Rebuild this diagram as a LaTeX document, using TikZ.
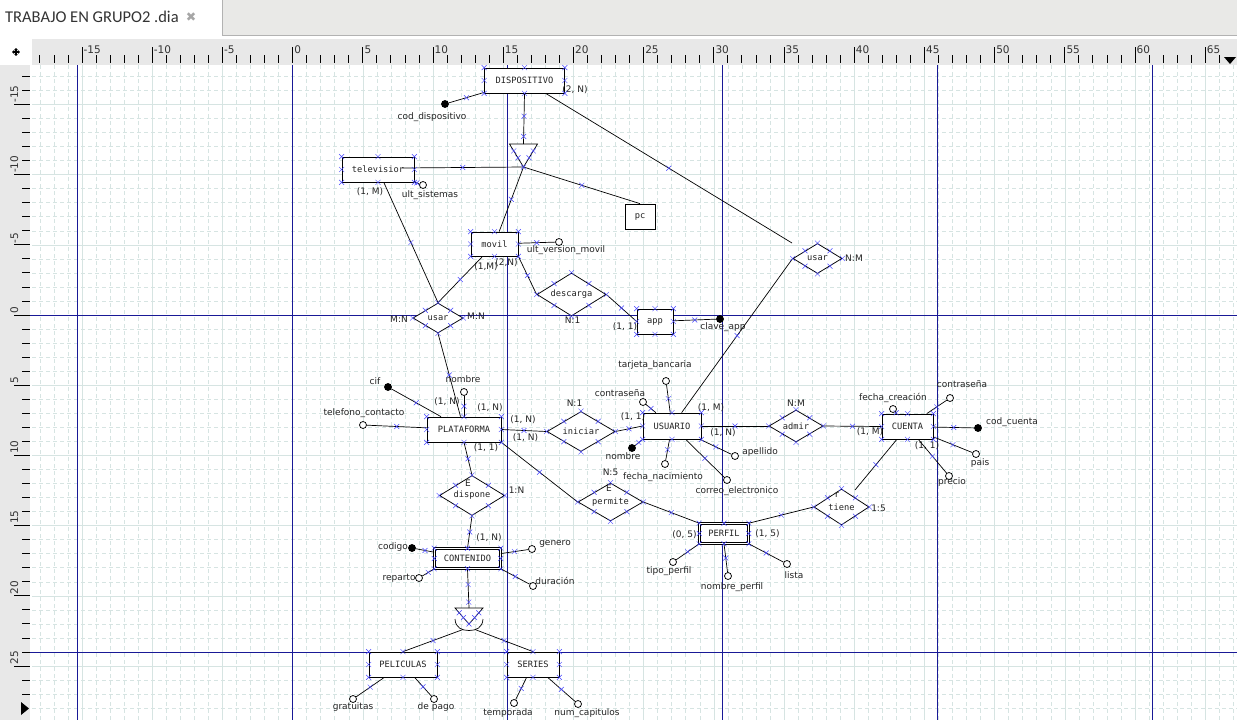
\documentclass[tikz,border=0pt]{standalone}
\usepackage{fontspec}
\setmainfont{DejaVu Sans}
\newfontfamily\monof{DejaVu Sans Mono}
\newfontfamily\tabf{Carlito}
\usetikzlibrary{shapes.geometric, shapes.misc, calc, arrows.meta}

\definecolor{guide}{RGB}{25,25,150}
\definecolor{gridc}{RGB}{214,228,226}
\definecolor{rulerbg}{RGB}{232,232,232}
\definecolor{tabbg}{RGB}{233,233,231}
\definecolor{cxblue}{RGB}{70,70,255}
\definecolor{txt}{RGB}{35,35,35}

\newcommand\boxpts[1]{\foreach \a in {north west,north,north east,east,south east,south,south west,west}{\node[cx] at (#1.\a) {};}}
\newcommand\diapts[1]{%
  \foreach \a in {north,east,south,west}{\node[cx] at (#1.\a) {};}%
  \foreach \p/\q in {north/east,east/south,south/west,west/north}{\node[cx] at ($(#1.\p)!.5!(#1.\q)$) {};}}

\begin{document}
\begin{tikzpicture}[x=1pt,y=-1pt,
  ln/.style={line width=.7pt},
  cx/.style={cross out,draw=cxblue,line width=.45pt,minimum size=4.5pt,inner sep=0pt},
  ent/.style={rectangle,draw,fill=white,line width=.75pt,text=txt,inner sep=0pt,minimum height=25pt,font=\monof\fontsize{8.7}{10}\selectfont},
  weak/.style={ent,double,double distance=1.8pt,line width=.6pt,minimum height=20pt},
  rel/.style={diamond,draw,fill=white,line width=.75pt,text=txt,inner sep=0pt,aspect=1.6,font=\monof\fontsize{8.7}{10}\selectfont},
  att/.style={circle,draw,fill=white,line width=.75pt,inner sep=0pt,minimum size=7pt},
  key/.style={att,fill=black},
  lbl/.style={text=txt,inner sep=0pt,font=\fontsize{9}{10}\selectfont},
  rul/.style={text=black!80,inner sep=0pt,font=\fontsize{10.5}{12}\selectfont},
  gridmin/.style={gridc,line width=.5pt,dash pattern=on 4pt off 3pt},
  gridmaj/.style={gridc,line width=.5pt},
  gd/.style={guide,line width=.8pt},
  tip/.style={line width=1.1pt,{Triangle[length=2pt,width=3.5pt]}-{Triangle[length=2pt,width=3.5pt]}}]

\useasboundingbox (0,0) rectangle (1237,720);
\fill[white] (0,0) rectangle (1237,720);

% tab bar
\fill[tabbg] (222,0) rectangle (1237,35);
\draw[black!30] (222.5,0) -- (222.5,35.5) -- (1237,35.5);
\node[anchor=base west,inner sep=0pt,text=black!80,font=\tabf\fontsize{16.5}{18}\selectfont] (tab) at (5,22) {TRABAJO EN GRUPO2 .dia};
\node[inner sep=0pt,text=black!35,font=\fontsize{12.5}{14}\selectfont] (close) at (191,17.5) {✖};

% rulers
\fill[rulerbg] (32,39) rectangle (1237,65);
\fill[rulerbg] (0,65) rectangle (30,720);
\draw[tip] (12,52) -- (20,52);
\draw[tip] (16,48) -- (16,56);
\fill (1224,57) -- (1236,57) -- (1230,64) -- cycle;
\fill (21,702) -- (21,715) -- (29,708.5) -- cycle;

\foreach \u in {-18,...,66}{
  \pgfmathsetmacro\gx{292.6+14.04*\u}
  \pgfmathtruncatemacro\m{mod(\u+100,5)}
  \pgfmathtruncatemacro\i{\u+20}
  \ifnum\m=0
    \draw[gridmaj] (\gx,65) -- (\gx,720);
    \draw[line width=.8pt] (\gx,47) -- (\gx,63);
    \node[rul,anchor=base west] (rx\i) at (\gx+1.5,53) {\u};
  \else
    \draw[gridmin] (\gx,65) -- (\gx,720);
    \draw[line width=.8pt] (\gx,55) -- (\gx,63);
  \fi
}
\draw[gridmin] (1233.3,65) -- (1233.3,720);
\foreach \v in {-17,...,28}{
  \pgfmathsetmacro\gy{315+14.04*\v}
  \pgfmathtruncatemacro\m{mod(\v+100,5)}
  \pgfmathtruncatemacro\i{\v+20}
  \ifnum\m=0
    \draw[gridmaj] (32,\gy) -- (1237,\gy);
    \ifnum\v<28 \draw[line width=.8pt] (14,\gy) -- (30,\gy);
    \node[rul,anchor=base west,rotate=90] (ry\i) at (18,\gy-1.5) {\v};\fi
  \else
    \draw[gridmin] (32,\gy) -- (1237,\gy);
    \ifnum\v<28 \draw[line width=.8pt] (22,\gy) -- (30,\gy);\fi
  \fi
}

% guides
\foreach \gx in {77,292,507,722,937,1152}{\draw[gd] (\gx,65) -- (\gx,720);}
\foreach \gy in {315,652}{\draw[gd] (30,\gy) -- (1237,\gy);}

% entities
\node[ent,minimum width=80pt] (dispo) at (524.5,80.5) {DISPOSITIVO};
\node[ent,minimum width=72pt] (tele) at (378,169.5) {televisior};
\node[ent,minimum width=30pt] (pc) at (640,216.5) {pc};
\node[ent,minimum width=47pt,minimum height=24pt] (movil) at (494.5,244) {movil};
\node[ent,minimum width=36pt] (app) at (655,321.5) {app};
\node[ent,minimum width=74pt] (plat) at (464,429.5) {PLATAFORMA};
\node[ent,minimum width=58pt,minimum height=26pt] (usu) at (672,426) {USUARIO};
\node[ent,minimum width=51pt] (cuenta) at (907.5,426.5) {CUENTA};
\node[weak,minimum width=66pt] (cont) at (467.5,558.5) {CONTENIDO};
\node[weak,minimum width=49pt] (perfil) at (724,533.5) {PERFIL};
\node[ent,minimum width=68pt] (peli) at (403,664.5) {PELICULAS};
\node[ent,minimum width=52pt] (series) at (533,664.5) {SERIES};

% relationships
\node[rel,minimum width=50pt,minimum height=30pt] (usarA) at (438,318) {usar};
\node[rel,minimum width=69pt,minimum height=43pt] (descarga) at (571.5,294.5) {descarga};
\node[rel,minimum width=49pt,minimum height=30pt] (usarB) at (817.5,258.5) {usar};
\node[rel,minimum width=68pt,minimum height=40pt,aspect=1.7] (iniciar) at (581,431.5) {iniciar};
\node[rel,minimum width=54pt,minimum height=32pt,aspect=1.7] (admir) at (796,426) {admir};
\node[rel,minimum width=65pt,minimum height=40pt] (dispone) at (472,495.5) {dispone};
\node[rel,minimum width=65pt,minimum height=38pt,aspect=1.7] (permite) at (610.5,502) {permite};
\node[rel,minimum width=55pt,minimum height=36pt,aspect=1.5] (tiene) at (841.5,507) {tiene};
\node[lbl] (eDisp) at (468,483) {E};
\node[lbl] (ePerm) at (609,488) {E};
\node[lbl] (eTiene) at (837,495) {r};

% is-a
\coordinate (isaL) at (509.5,144);
\coordinate (isaR) at (537.5,144);
\coordinate (isaA) at (523.5,167);
\coordinate (isaT) at (523.5,144);
\coordinate (teleR) at (402,168);
\coordinate (usarBend) at (792,243);
\coordinate (tieneEnd) at (855,490);
\draw[ln,fill=white] (isaL) -- (isaR) -- (isaA) -- cycle;
\coordinate (isbL) at (455,608);
\coordinate (isbR) at (483,608);
\coordinate (isbA) at (469,624);
\coordinate (isbT) at (469,608);
\coordinate (isbPl) at (463,629.5);
\coordinate (isbSe) at (475,629.5);
\draw[ln,fill=white] (isbL) -- (isbR) -- (isbA) -- cycle;
\draw[ln] (455,619) .. controls (455.5,628) and (462,630.5) .. (469,630.5) .. controls (476,630.5) and (482.5,628) .. (483,619);

% attributes
\node[key] (codDisp) at (445,104) {};
\node[lbl] (lcodDisp) at (432,117) {cod\_dispositivo};
\node[att] (ultSis) at (423,185) {};
\node[lbl] (lultSis) at (430,195) {ult\_sistemas};
\node[att] (ultVer) at (559,242) {};
\node[lbl] (lultVer) at (566,250) {ult\_version\_movil};
\node[key] (clave) at (720,319) {};
\node[lbl] (lclave) at (723,327) {clave\_app};
\node[key] (cif) at (388,387) {};
\node[lbl] (lcif) at (375,381) {cif};
\node[att] (pNom) at (464,392) {};
\node[lbl] (lpNom) at (463,379) {nombre};
\node[att] (tel) at (363,425) {};
\node[lbl] (ltel) at (364,413) {telefono\_contacto};
\node[att] (tarj) at (666,381) {};
\node[lbl] (ltarj) at (655,365) {tarjeta\_bancaria};
\node[att] (uPass) at (643,402) {};
\node[lbl] (luPass) at (620,393) {contraseña};
\node[key] (uNom) at (632,448) {};
\node[lbl] (luNom) at (623,456) {nombre};
\node[att] (fNac) at (665,464) {};
\node[lbl] (lfNac) at (663,477) {fecha\_nacimiento};
\node[att] (apell) at (735,456) {};
\node[lbl] (lapell) at (760,452) {apellido};
\node[att] (correo) at (727,480) {};
\node[lbl] (lcorreo) at (737,491) {correo\_electronico};
\node[att] (fCre) at (893,409) {};
\node[lbl] (lfCre) at (893,398) {fecha\_creación};
\node[att] (cPass) at (950,398) {};
\node[lbl] (lcPass) at (962,384) {contraseña};
\node[key] (codCta) at (978,428) {};
\node[lbl] (lcodCta) at (1012,422) {cod\_cuenta};
\node[att] (pais) at (976,454) {};
\node[lbl] (lpais) at (980,463) {pais};
\node[att] (precio) at (949,476) {};
\node[lbl] (lprecio) at (952,482) {precio};
\node[att] (tipo) at (673,562) {};
\node[lbl] (ltipo) at (669,571) {tipo\_perfil};
\node[att] (nPerf) at (728,576) {};
\node[lbl] (lnPerf) at (732,587) {nombre\_perfil};
\node[att] (lista) at (787,564) {};
\node[lbl] (llista) at (794,575) {lista};
\node[key] (codigo) at (412,548) {};
\node[lbl] (lcodigo) at (393,547) {codigo};
\node[att] (reparto) at (419,578) {};
\node[lbl] (lreparto) at (399,578) {reparto};
\node[att] (genero) at (532,549) {};
\node[lbl] (lgenero) at (555,544) {genero};
\node[att] (durac) at (533,586) {};
\node[lbl] (ldurac) at (555,581) {duración};
\node[att] (grat) at (353,699) {};
\node[lbl] (lgrat) at (353,707) {gratuitas};
\node[att] (pago) at (434,699) {};
\node[lbl] (lpago) at (436,707) {de pago};
\node[att] (temp) at (514,703) {};
\node[lbl] (ltemp) at (508,713) {temporada};
\node[att] (numCap) at (578,704) {};
\node[lbl] (lnumCap) at (587,713) {num\_capitulos};

% cardinalities
\node[lbl] (c1) at (575,90) {(2, N)};
\node[lbl] (c2) at (370,192) {(1, M)};
\node[lbl] (c3) at (486,267) {(1,M)};
\node[lbl] (c4) at (506.5,263) {(2,N)};
\node[lbl] (c5) at (399,319) {M:N};
\node[lbl] (c6) at (476,316) {M:N};
\node[lbl] (c7) at (572.5,320) {N:1};
\node[lbl] (c8) at (625,327) {(1, 1)};
\node[lbl] (c9) at (854,258) {N:M};
\node[lbl] (c10) at (447,402) {(1, N)};
\node[lbl] (c11) at (490,408) {(1, N)};
\node[lbl] (c12) at (523,420) {(1, N)};
\node[lbl] (c13) at (525.5,438) {(1, N)};
\node[lbl] (c14) at (574.5,403) {N:1};
\node[lbl] (c15) at (633,417) {(1, 1)};
\node[lbl] (c16) at (486,448) {(1, 1)};
\node[lbl] (c17) at (516.5,490) {1:N};
\node[lbl] (c18) at (489,538) {(1, N)};
\node[lbl] (c19) at (711,408) {(1, M)};
\node[lbl] (c20) at (723,433) {(1, N)};
\node[lbl] (c21) at (796,403) {N:M};
\node[lbl] (c22) at (870,432) {(1, M)};
\node[lbl] (c23) at (927,446) {(1, 1)};
\node[lbl] (c24) at (610.5,472) {N:5};
\node[lbl] (c25) at (878.5,508) {1:5};
\node[lbl] (c26) at (684.5,535) {(0, 5)};
\node[lbl] (c27) at (767.5,534) {(1, 5)};

% connectors
\draw[ln] (dispo.south) -- (isaT) node[cx,pos=.45]{} node[cx,pos=.85]{};
\draw[ln] (dispo) -- (usarBend) node[cx,pos=.5]{};
\draw[ln] (codDisp) -- (dispo) node[cx,pos=.5]{};
\draw[ln] (isaA) -- (teleR) node[cx,pos=.5]{};
\draw[ln] (isaA) -- (pc.north) node[cx,pos=.5]{};
\draw[ln] (isaA) -- (movil) node[cx,pos=.5]{};
\draw[ln] (tele) -- (ultSis) node[cx,pos=.5]{};
\draw[ln] (tele) -- (usarA.north) node[cx,pos=.5]{};
\draw[ln] (movil) -- (ultVer) node[cx,pos=.5]{};
\draw[ln] (movil) -- (usarA.north) node[cx,pos=.5]{};
\draw[ln] (movil.south east) -- (descarga.west) node[cx,pos=.5]{};
\draw[ln] (descarga.east) -- (app.west) node[cx,pos=.5]{};
\draw[ln] (app) -- (clave) node[cx,pos=.5]{};
\draw[ln] (usarB.west) -- (usu) node[cx,pos=.5]{};
\draw[ln] (usarA.south) -- (plat) node[cx,pos=.5]{};
\draw[ln] (cif) -- (plat) node[cx,pos=.5]{};
\draw[ln] (pNom) -- (plat) node[cx,pos=.5]{};
\draw[ln] (tel) -- (plat) node[cx,pos=.5]{};
\draw[ln] (plat.east) -- (iniciar.west) node[cx,pos=.5]{};
\draw[ln] (iniciar.east) -- (usu.west) node[cx,pos=.5]{};
\draw[ln] (plat.south) -- (dispone.north) node[cx,pos=.5]{};
\draw[ln] (plat.south east) -- (permite.west) node[cx,pos=.5]{};
\draw[ln] (dispone.south) -- (cont.north) node[cx,pos=.5]{};
\draw[ln] (codigo) -- (cont) node[cx,pos=.5]{};
\draw[ln] (reparto) -- (cont.south west) node[cx,pos=.5]{};
\draw[ln] (genero) -- (cont) node[cx,pos=.5]{};
\draw[ln] (durac) -- (cont.south east) node[cx,pos=.5]{};
\draw[ln] (cont.south) -- (isbT) node[cx,pos=.4]{} node[cx,pos=.85]{};
\draw[ln] (isbPl) -- (peli.north) node[cx,pos=.5]{};
\draw[ln] (isbSe) -- (series.north) node[cx,pos=.5]{};
\draw[ln] (grat) -- (peli) node[cx,pos=.5]{};
\draw[ln] (pago) -- (peli) node[cx,pos=.5]{};
\draw[ln] (temp) -- (series) node[cx,pos=.5]{};
\draw[ln] (numCap) -- (series) node[cx,pos=.5]{};
\draw[ln] (tarj) -- (usu) node[cx,pos=.5]{};
\draw[ln] (uPass) -- (usu) node[cx,pos=.5]{};
\draw[ln] (uNom) -- (usu.south west) node[cx,pos=.5]{};
\draw[ln] (fNac) -- (usu) node[cx,pos=.5]{};
\draw[ln] (apell) -- (usu) node[cx,pos=.5]{};
\draw[ln] (correo) -- (usu) node[cx,pos=.5]{};
\draw[ln] (usu.east) -- (admir.west) node[cx,pos=.5]{};
\draw[ln] (admir.east) -- (cuenta.west) node[cx,pos=.5]{};
\draw[ln] (fCre) -- (cuenta) node[cx,pos=.5]{};
\draw[ln] (cPass) -- (cuenta) node[cx,pos=.5]{};
\draw[ln] (codCta) -- (cuenta) node[cx,pos=.5]{};
\draw[ln] (pais) -- (cuenta) node[cx,pos=.5]{};
\draw[ln] (precio) -- (cuenta) node[cx,pos=.5]{};
\draw[ln] (cuenta) -- (tieneEnd) node[cx,pos=.5]{};
\draw[ln] (tiene.west) -- (perfil.north east) node[cx,pos=.5]{};
\draw[ln] (permite.east) -- (perfil.north west) node[cx,pos=.5]{};
\draw[ln] (tipo) -- (perfil.south west) node[cx,pos=.5]{};
\draw[ln] (nPerf) -- (perfil.south) node[cx,pos=.5]{};
\draw[ln] (lista) -- (perfil.south east) node[cx,pos=.5]{};

% connection points
\foreach \b in {dispo,tele,movil,app,plat,usu,cuenta,cont,perfil,peli,series}{\boxpts{\b}}
\foreach \d in {usarA,descarga,usarB,iniciar,admir,dispone,permite,tiene}{\diapts{\d}}
\foreach \t in {.3,.6}{
  \node[cx] at ($(isaL)!\t!(isaA)$) {};
  \node[cx] at ($(isaR)!\t!(isaA)$) {};
  \node[cx] at ($(isbL)!\t!(isbA)$) {};
  \node[cx] at ($(isbR)!\t!(isbA)$) {};}
\node[cx] at (isaA) {};
\node[cx] at (isbA) {};
\end{tikzpicture}
\end{document}
